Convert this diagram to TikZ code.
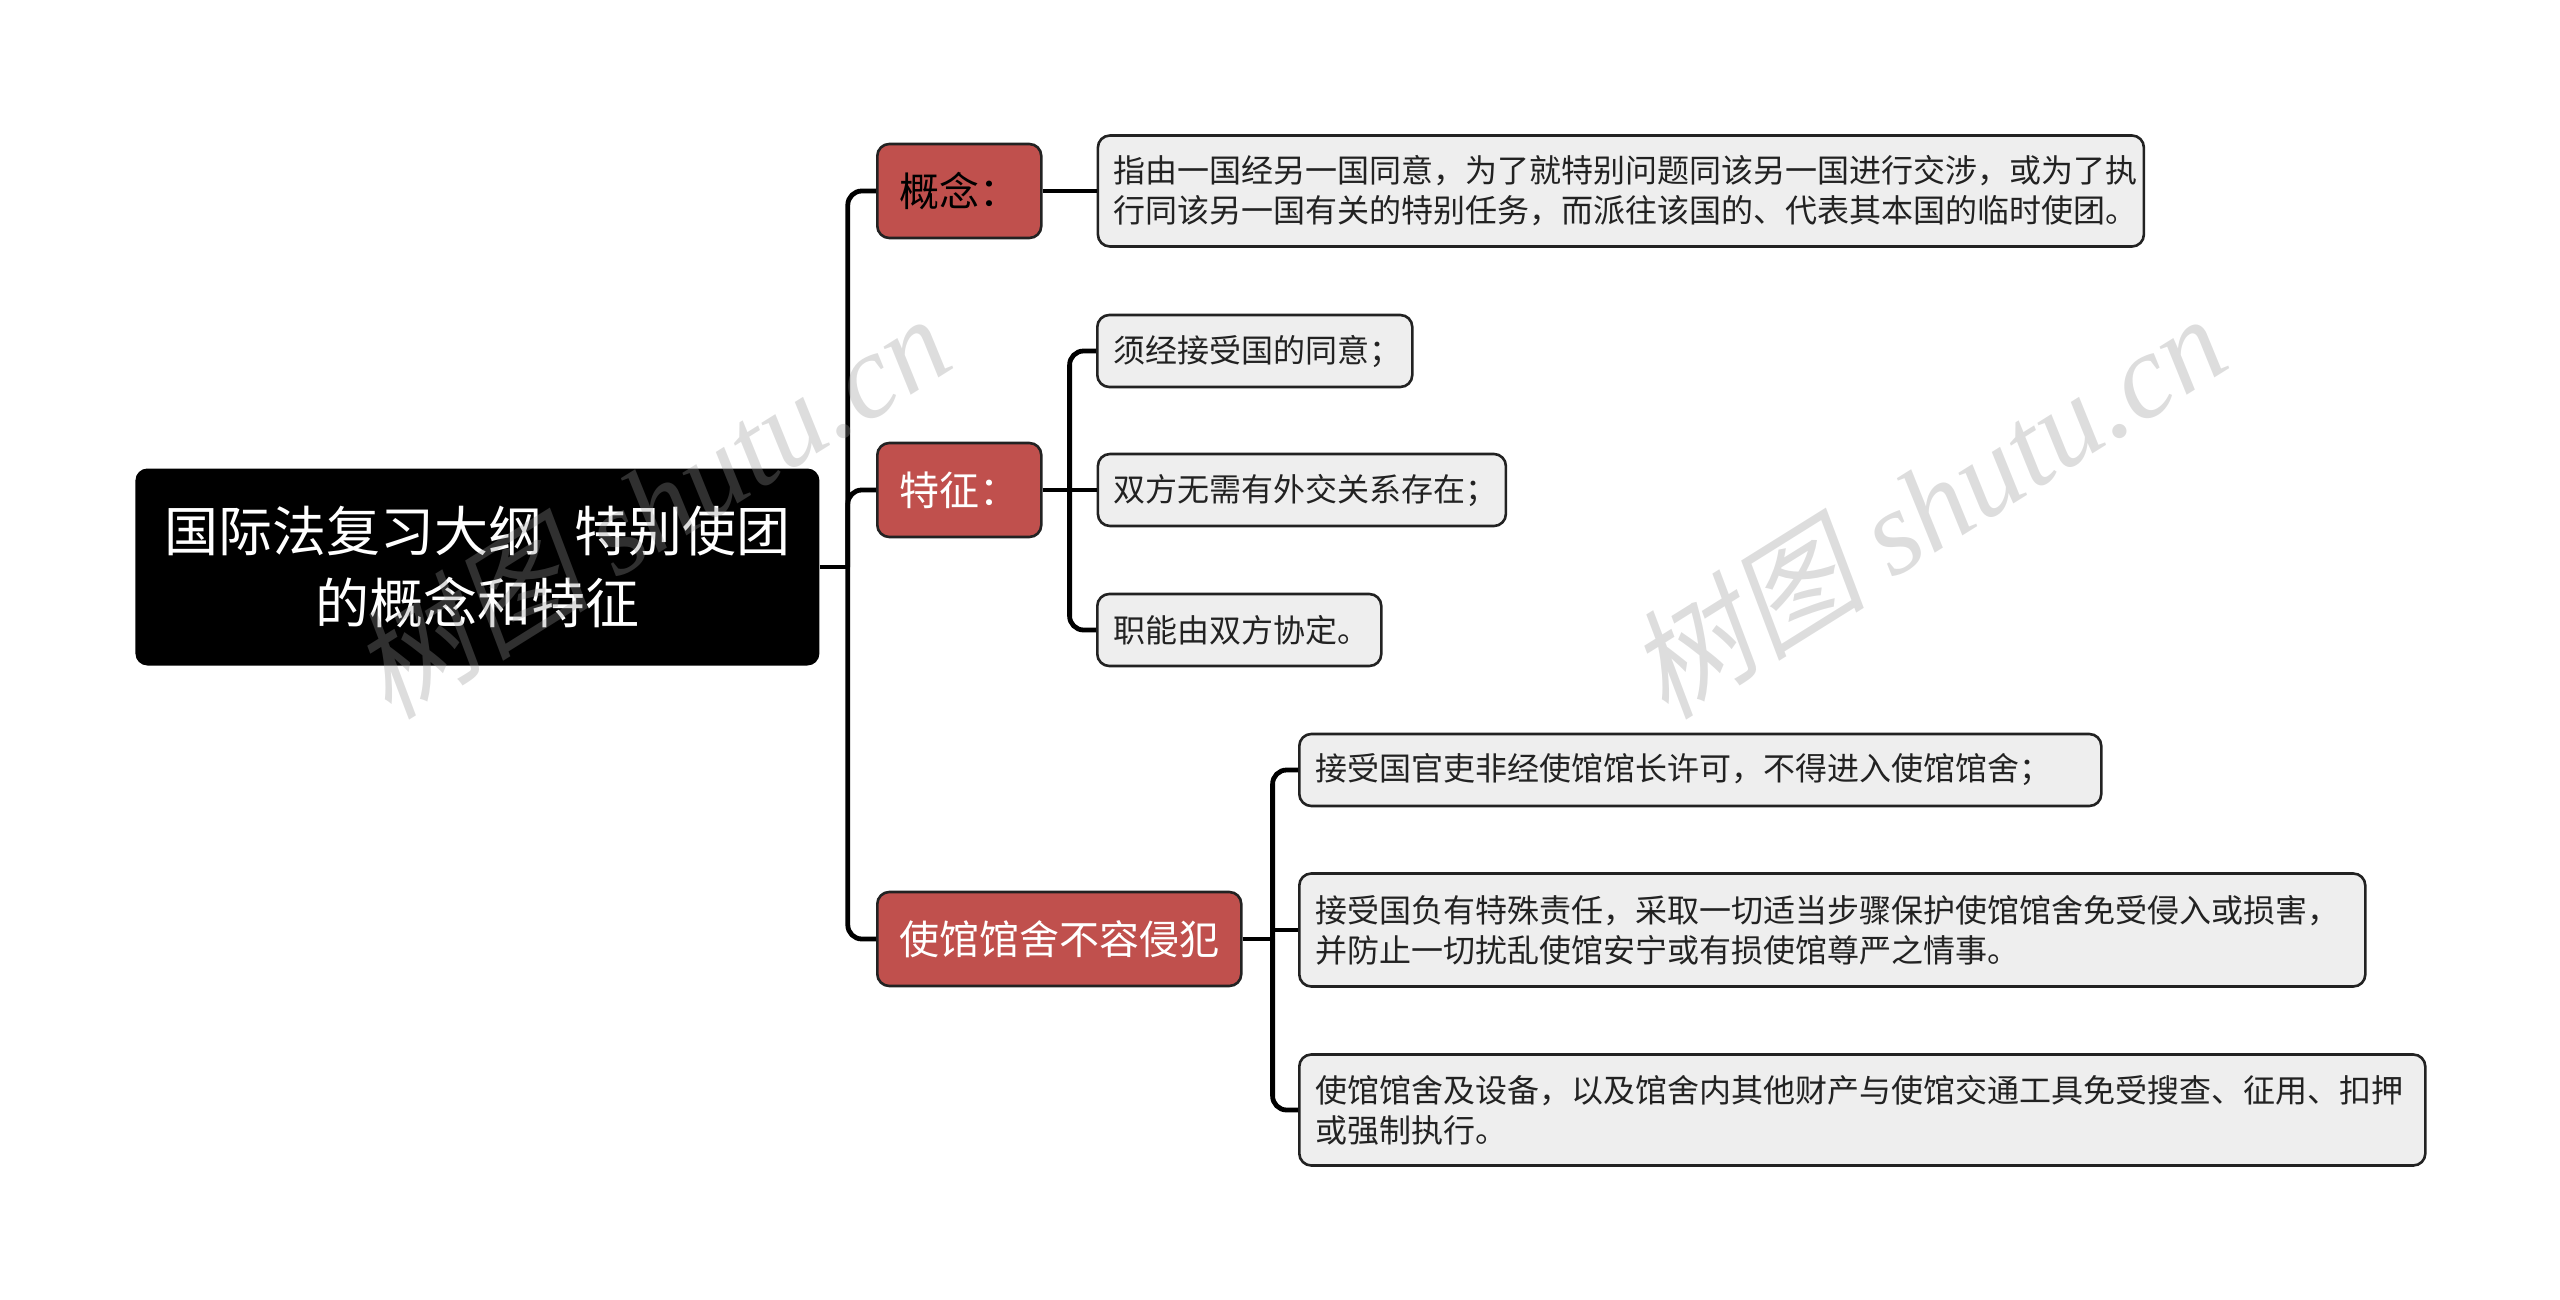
\documentclass[tikz,border=0pt]{standalone}
\usepackage{fontspec}
\setmainfont{Noto Sans CJK SC}
\newfontfamily\wmlatin{Liberation Serif}
\newfontfamily\wmcjk[FakeSlant=0.2]{Noto Sans CJK SC}
\usetikzlibrary{positioning}
\definecolor{zweigrot}{RGB}{192,80,77}
\definecolor{blattgrau}{RGB}{238,238,238}
\definecolor{randgrau}{RGB}{34,34,34}
\definecolor{marke}{RGB}{150,150,150}
\tikzset{
	wurzel/.style={
		rectangle,
		rounded corners=6pt,
		fill=black,
		text=white,
		minimum width=342pt,
		minimum height=98.5pt,
		align=center,
		font=\fontsize{27pt}{36pt}\selectfont},
	zweig/.style={
		rectangle,
		rounded corners=6pt,
		fill=zweigrot,
		draw=randgrau, line width=1.3pt,
		text=white,
		minimum height=47pt,
		inner xsep=11pt,
		font=\fontsize{20pt}{24pt}\selectfont},
	blatt/.style={
		rectangle,
		rounded corners=6pt,
		fill=blattgrau,
		draw=randgrau, line width=1.3pt,
		text=randgrau,
		minimum height=36pt,
		inner xsep=8pt,
		align=left,
		font=\fontsize{16pt}{20pt}\selectfont},
	linie/.style={draw=black, line width=2.4pt, rounded corners=7pt},
	stempel/.style={text=marke, text opacity=0.32, rotate=32, font=\fontsize{60pt}{60pt}\selectfont},
}
\begin{document}
\begin{tikzpicture}[x=0.5pt, y=-0.5pt]
	\useasboundingbox (0,0) rectangle (2560,1300);
	\node[wurzel, anchor=west] (thema) at (135,567) {国际法复习大纲\hspace{0.6em}特别使团\\的概念和特征};
	\node[zweig, text=black, anchor=west] (gainian) at (876,191) {概念：};
	\node[zweig, anchor=west] (tezheng) at (876,490) {特征：};
	\node[zweig, anchor=west] (shiguan) at (876,939) {使馆馆舍不容侵犯};
	
	\node[blatt, right=27pt of gainian, text width=507pt, minimum height=55.5pt] (dingyi) {指由一国经另一国同意，为了就特别问题同该另一国进行交涉，或为了执\\行同该另一国有关的特别任务，而派往该国的、代表其本国的临时使团。};
	
	\node[blatt, anchor=west, text width=141.5pt] (tongyi) at (1096,351) {须经接受国的同意；};
	\node[blatt, right=27pt of tezheng, text width=188pt] (guanxi) {双方无需有外交关系存在；};
	\node[blatt, anchor=west, text width=126pt] (xieding) at (1096,630) {职能由双方协定。};
	
	\node[blatt, anchor=west, text width=385pt] (guanyuan) at (1298,770) {接受国官吏非经使馆馆长许可，不得进入使馆馆舍；};
	\node[blatt, anchor=west, text width=517pt, minimum height=56.5pt] (zeren) at (1298,930) {接受国负有特殊责任，采取一切适当步骤保护使馆馆舍免受侵入或损害，\\并防止一切扰乱使馆安宁或有损使馆尊严之情事。};
	\node[blatt, anchor=west, text width=547pt, minimum height=55.5pt] (shebei) at (1298,1110) {使馆馆舍及设备，以及馆舍内其他财产与使馆交通工具免受搜查、征用、扣押\\或强制执行。};
	
	\coordinate (gabel) at ([xshift=14pt]thema.east);
	\draw[linie] (thema.east) -- (gabel);
	\foreach \z in {gainian,tezheng,shiguan}
		\draw[linie] (gabel) |- (\z.west);
	\draw[linie] (gainian.east) -- (dingyi.west);
	
	\coordinate (gabelb) at ([xshift=13.5pt]tezheng.east);
	\draw[linie] (tezheng.east) -- (guanxi.west);
	\foreach \b in {tongyi,xieding}
		\draw[linie] (gabelb) |- (\b.west);
	
	\coordinate (gabelc) at ([xshift=15pt]shiguan.east);
	\draw[linie] (shiguan.east) -- (gabelc);
	\foreach \b in {guanyuan,shebei}
		\draw[linie] (gabelc) |- (\b.west);
	\draw[linie, sharp corners] (gabelc |- zeren.west) -- (zeren.west);
	
	\node[stempel] (markeeins) at (650,505) {{\wmcjk 树图} {\wmlatin\itshape shutu.cn}};
	\node[stempel] (markezwei) at (1926,505) {{\wmcjk 树图} {\wmlatin\itshape shutu.cn}};
\end{tikzpicture}
\end{document}
